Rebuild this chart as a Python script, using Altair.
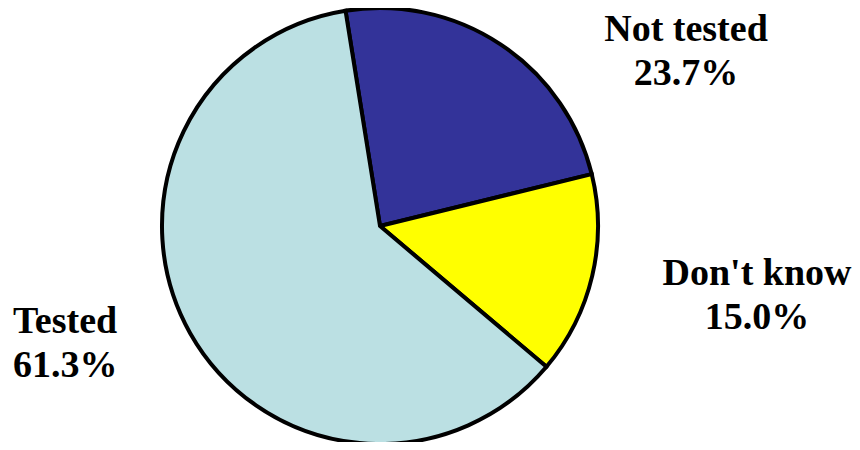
import math
import altair as alt
import pandas as pd

categories = ["Not tested", "Don't know", "Tested"]
shares = [23.7, 15.0, 61.3]
colors = ["#333399", "#FFFF00", "#BBE0E3"]

df = pd.DataFrame({"category": categories, "share": shares, "idx": list(range(len(categories)))})

start = -9.1 * math.pi / 180.0
cx, cy, r = 372, 218, 218

base = alt.Chart(df)

pie = base.mark_arc(outerRadius=r, stroke="black", strokeWidth=4).encode(
    theta=alt.Theta("share:Q", stack=True, scale=alt.Scale(range=[start, start + 2 * math.pi])),
    color=alt.Color("category:N", scale=alt.Scale(domain=categories, range=colors), legend=None),
    order=alt.Order("idx:Q"),
    x=alt.value(cx),
    y=alt.value(cy),
)

placements = {
    "Not tested": dict(x=678, y=33, align="center"),
    "Don't know": dict(x=749, y=277, align="center"),
    "Tested": dict(x=5, y=325, align="left"),
}

layers = [pie]
for cat in categories:
    p = placements[cat]
    t = base.transform_filter(alt.datum.category == cat).transform_calculate(
        lines="[datum.category, format(datum.share, '.1f') + '%']"
    ).mark_text(
        font="'Times New Roman', 'Liberation Serif', serif", fontWeight="bold", fontSize=38, lineHeight=44,
        align=p["align"], baseline="alphabetic", color="black",
    ).encode(text="lines:N", x=alt.value(p["x"]), y=alt.value(p["y"]))
    layers.append(t)

chart = alt.layer(*layers).properties(
    width=844, height=434, padding=0, autosize="none"
).configure_view(stroke=None)

chart.save("out.html", embed_options={"renderer": "svg", "actions": False})
